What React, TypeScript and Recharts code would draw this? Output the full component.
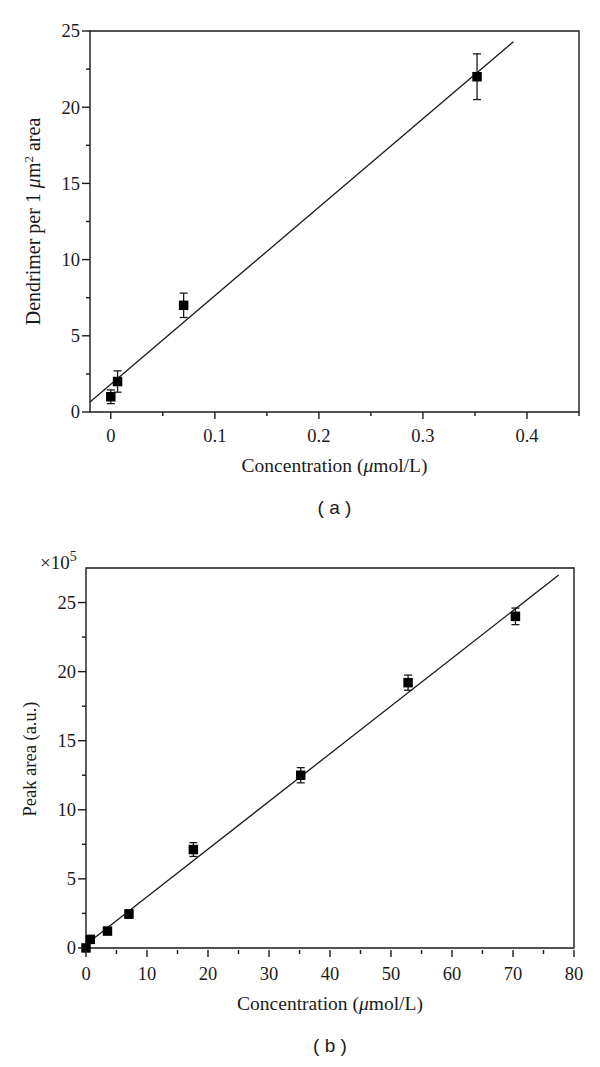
import React from 'react'
import { ComposedChart, Scatter, Line, XAxis, YAxis, ZAxis, ErrorBar, ReferenceArea, Label } from 'recharts'

const SERIF = '"Liberation Serif", "DejaVu Serif", serif'
const SANS = '"Liberation Sans", Arial, sans-serif'
const INK = '#1a1a1a'

// (a) dendrimer density vs concentration
const concA = [0, 0.0065, 0.07, 0.352]
const densityA = [1.0, 2.0, 7.0, 22.0]
const errA = [0.45, 0.7, 0.8, 1.5]
const fitConcA = [-0.02, 0.387]
const fitDensityA = [0.66, 24.3]
const xTicksA = [0, 0.05, 0.1, 0.15, 0.2, 0.25, 0.3, 0.35, 0.4, 0.45]
const xMajorA = [0, 0.1, 0.2, 0.3, 0.4]
const yTicksA = [0, 2.5, 5, 7.5, 10, 12.5, 15, 17.5, 20, 22.5, 25]
const yMajorA = [0, 5, 10, 15, 20, 25]

// (b) peak area (x10^5) vs concentration
const concB = [0, 0.704, 3.52, 7.04, 17.6, 35.2, 52.8, 70.4]
const peakB = [0, 0.62, 1.22, 2.45, 7.12, 12.5, 19.2, 24.0]
const errB = [0.15, 0.2, 0.25, 0.3, 0.5, 0.55, 0.55, 0.6]
const fitConcB = [0, 77.5]
const fitPeakB = [0.25, 27.0]
const xTicksB = [0, 5, 10, 15, 20, 25, 30, 35, 40, 45, 50, 55, 60, 65, 70, 75, 80]
const xMajorB = [0, 10, 20, 30, 40, 50, 60, 70, 80]
const yTicksB = [0, 2.5, 5, 7.5, 10, 12.5, 15, 17.5, 20, 22.5, 25]
const yMajorB = [0, 5, 10, 15, 20, 25]

const pointsA = concA.map((x, i) => ({ x, y: densityA[i], err: errA[i] }))
const fitA = fitConcA.map((x, i) => ({ x, y: fitDensityA[i] }))
const pointsB = concB.map((x, i) => ({ x, y: peakB[i], err: errB[i] }))
const fitB = fitConcB.map((x, i) => ({ x, y: fitPeakB[i] }))

const makeXTick = (majors: number[]) => (props: any) => {
  const { x, y, payload } = props
  const major = majors.includes(payload.value)
  return (
    <g>
      <line x1={x} x2={x} y1={y} y2={y + (major ? 7 : 4)} stroke={INK} strokeWidth={1.4} />
      {major && (
        <text x={x} y={y + 30} textAnchor="middle" fontFamily={SERIF} fontSize={18.5} fill={INK}>
          {payload.value}
        </text>
      )}
    </g>
  )
}

const makeYTick = (majors: number[]) => (props: any) => {
  const { x, y, payload } = props
  const major = majors.includes(payload.value)
  return (
    <g>
      <line x1={x} x2={x - (major ? 8 : 4)} y1={y} y2={y} stroke={INK} strokeWidth={1.4} />
      {major && (
        <text x={x - 10} y={y} dy="0.35em" textAnchor="end" fontFamily={SERIF} fontSize={18.5} fill={INK}>
          {payload.value}
        </text>
      )}
    </g>
  )
}

const xTitle = (caption: string) => (props: any) => {
  const vb = props.viewBox
  const cx = vb.x + vb.width / 2
  return (
    <g>
      <text x={cx} y={vb.y + 60} textAnchor="middle" fontFamily={SERIF} fontSize={19.5} fill={INK}>
        Concentration (<tspan fontStyle="italic">μ</tspan>mol/L)
      </text>
      <text x={cx} y={vb.y + 102} textAnchor="middle" fontFamily={SANS} fontSize={19} fill={INK}>
        {caption}
      </text>
    </g>
  )
}

const yTitleA = (props: any) => {
  const vb = props.viewBox
  const cx = vb.x + vb.width - 57
  const cy = vb.y + vb.height / 2
  return (
    <text
      x={cx}
      y={cy}
      transform={`rotate(-90 ${cx} ${cy})`}
      textAnchor="middle"
      dy="0.35em"
      fontFamily={SERIF}
      fontSize={20}
      fill={INK}
    >
      Dendrimer per 1 <tspan fontStyle="italic">μ</tspan>m
      <tspan dy={-7} fontSize={13}>2</tspan>
      <tspan dy={7}> area</tspan>
    </text>
  )
}

const yTitleB = (props: any) => {
  const vb = props.viewBox
  const ax = vb.x + vb.width
  const cx = ax - 56
  const cy = vb.y + vb.height / 2
  return (
    <g>
      <text
        x={cx}
        y={cy}
        transform={`rotate(-90 ${cx} ${cy})`}
        textAnchor="middle"
        dy="0.35em"
        fontFamily={SERIF}
        fontSize={18.5}
        fill={INK}
      >
        Peak area (a.u.)
      </text>
      <text x={ax - 46} y={vb.y + 1} fontFamily={SERIF} fontSize={19} fill={INK}>
        ×10<tspan dy={-8} fontSize={14}>5</tspan>
      </text>
    </g>
  )
}

export default function App() {
  return (
    <div style={{ position: 'absolute', left: 0, top: 0, width: 600, height: 1067, background: '#fff' }}>
      <ComposedChart width={600} height={530} margin={{ top: 31, right: 21, bottom: 117, left: 89 }}>
        <XAxis
          dataKey="x"
          type="number"
          domain={[-0.02, 0.45]}
          ticks={xTicksA}
          interval={0}
          height={1}
          tickSize={0}
          tickMargin={0}
          tickLine={false}
          axisLine={false}
          tick={makeXTick(xMajorA)}
        >
          <Label content={xTitle('( a )')} />
        </XAxis>
        <YAxis
          type="number"
          domain={[0, 25]}
          ticks={yTicksA}
          interval={0}
          width={1}
          tickSize={0}
          tickMargin={0}
          tickLine={false}
          axisLine={false}
          tick={makeYTick(yMajorA)}
        >
          <Label content={yTitleA} />
        </YAxis>
        <ZAxis range={[90, 90]} />
        <ReferenceArea x1={-0.02} x2={0.45} y1={0} y2={25} fill="none" stroke={INK} strokeWidth={1.4} />
        <Line data={fitA} dataKey="y" type="linear" stroke={INK} strokeWidth={1.3} dot={false} isAnimationActive={false} />
        <Scatter data={pointsA} dataKey="y" shape="square" fill="#000" isAnimationActive={false}>
          <ErrorBar dataKey="err" direction="y" width={4} stroke={INK} strokeWidth={1.3} />
        </Scatter>
      </ComposedChart>

      <ComposedChart width={600} height={537} margin={{ top: 38, right: 26, bottom: 116, left: 85 }}>
        <XAxis
          dataKey="x"
          type="number"
          domain={[0, 80]}
          ticks={xTicksB}
          interval={0}
          height={1}
          tickSize={0}
          tickMargin={0}
          tickLine={false}
          axisLine={false}
          tick={makeXTick(xMajorB)}
        >
          <Label content={xTitle('( b )')} />
        </XAxis>
        <YAxis
          type="number"
          domain={[0, 27.5]}
          ticks={yTicksB}
          interval={0}
          width={1}
          tickSize={0}
          tickMargin={0}
          tickLine={false}
          axisLine={false}
          tick={makeYTick(yMajorB)}
        >
          <Label content={yTitleB} />
        </YAxis>
        <ZAxis range={[90, 90]} />
        <ReferenceArea x1={0} x2={80} y1={0} y2={27.5} fill="none" stroke={INK} strokeWidth={1.4} />
        <Line data={fitB} dataKey="y" type="linear" stroke={INK} strokeWidth={1.3} dot={false} isAnimationActive={false} />
        <Scatter data={pointsB} dataKey="y" shape="square" fill="#000" isAnimationActive={false}>
          <ErrorBar dataKey="err" direction="y" width={4} stroke={INK} strokeWidth={1.3} />
        </Scatter>
      </ComposedChart>
    </div>
  )
}
